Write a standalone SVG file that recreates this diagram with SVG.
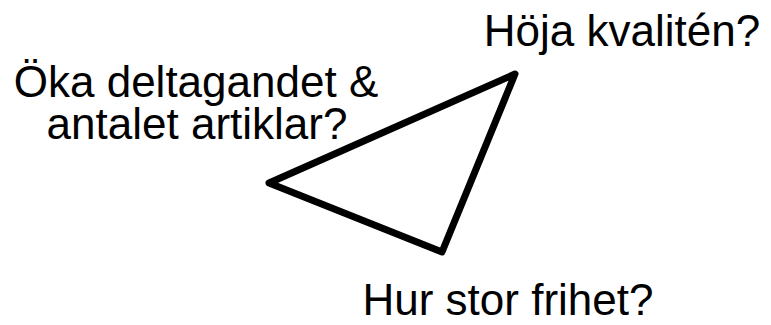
<svg xmlns="http://www.w3.org/2000/svg" width="771" height="325" viewBox="0 0 771 325">
<style>
.t{font-family:"Liberation Sans",Arial,sans-serif;font-size:44px;fill:#000;text-anchor:middle}
</style>
<rect width="771" height="325" fill="#fff"/>
<g id="connectors">
<polygon points="515,74 269,183 442,252" fill="none" stroke="#000" stroke-width="7" stroke-linejoin="round"/>
</g>
<g id="node-top"><text class="t" x="622" y="46">Höja kvalitén?</text></g>
<g id="node-left"><text class="t" x="196" y="97">Öka deltagandet &amp;</text><text class="t" x="197" y="139">antalet artiklar?</text></g>
<g id="node-bottom"><text class="t" x="508" y="315">Hur stor frihet?</text></g>
</svg>
